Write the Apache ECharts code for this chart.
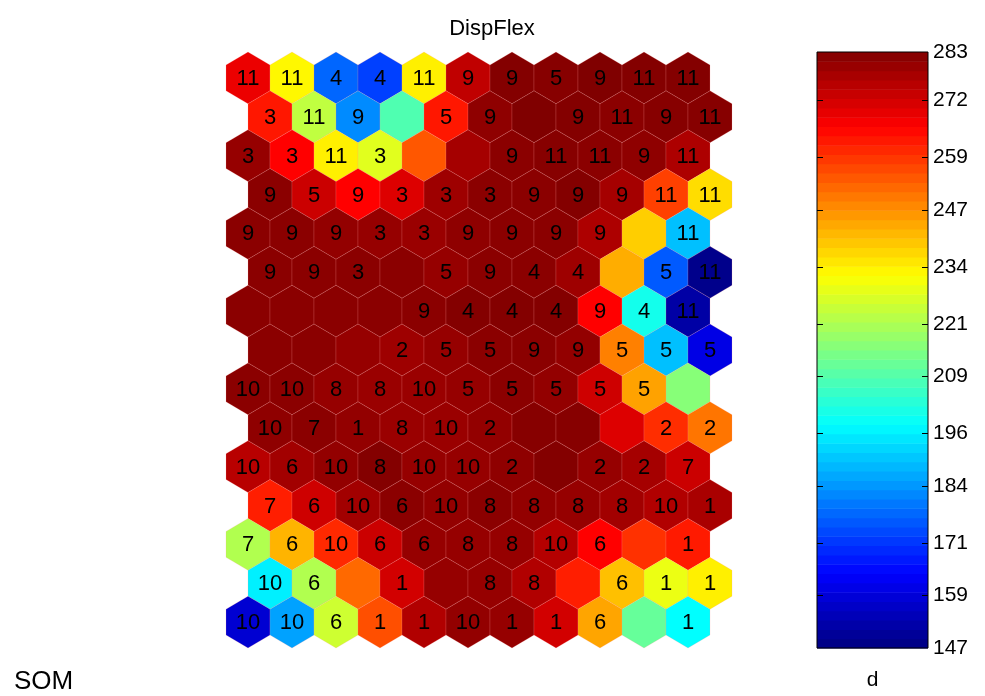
<!DOCTYPE html>
<html>
<head>
<meta charset="utf-8">
<script src="https://cdn.jsdelivr.net/npm/echarts@6/dist/echarts.min.js"></script>
<style>html,body{margin:0;padding:0;background:#fff;}#c{width:985px;height:696px;}</style>
</head>
<body>
<div id="c"></div>
<script>
// SOM component plane "DispFlex": 15 rows x 11 columns, hexagonal lattice
var rowValues = [
  [268.5, 233, 177.5, 172.5, 234, 274.5, 282.5, 282, 283, 282.5, 282.5],
  [263, 223.5, 182.5, 208.5, 263, 281, 283, 282.5, 281.5, 282, 282],
  [280, 266, 234, 228, 254.5, 278, 281.5, 282, 281.5, 281, 277],
  [281.5, 273, 266, 270.5, 279, 281.5, 281.5, 282.5, 278, 257.5, 236.5],
  [281.5, 281.5, 280.5, 280, 279.5, 281, 281.5, 281.5, 277, 238.5, 189.5],
  [281.5, 281.5, 281.5, 281.5, 280, 281.5, 281.5, 279, 243, 176, 148.5],
  [281.5, 281.5, 281.5, 281.5, 281.5, 282.5, 282.5, 282.5, 266, 200.5, 152],
  [281.5, 281.5, 280, 279, 280, 281.5, 281.5, 280.5, 249, 189.5, 160.5],
  [281.5, 281.5, 280, 279.5, 279.5, 280, 281.5, 280.5, 272.5, 244.5, 216],
  [281, 281.5, 280.5, 279.5, 279.5, 280.5, 282, 282, 270.5, 260, 250.5],
  [275.5, 278.5, 280.5, 282.5, 280, 280, 281, 282.5, 280, 278, 273],
  [262, 272.5, 278.5, 281.5, 280.5, 281.5, 280.5, 280, 278.5, 276.5, 277.5],
  [221.5, 242, 260.5, 273, 280, 280, 280, 276, 266, 259.5, 262.5],
  [196, 221.5, 252, 272, 280, 280, 276.5, 262, 240.5, 229.5, 234],
  [158, 185.5, 225.5, 255.5, 276.5, 280.5, 280, 272, 244, 211.5, 198]
];
var rowLabels = [
  ['11','11','4','4','11','9','9','5','9','11','11'],
  ['3','11','9','','5','9','','9','11','9','11'],
  ['3','3','11','3','','','9','11','11','9','11'],
  ['9','5','9','3','3','3','9','9','9','11','11'],
  ['9','9','9','3','3','9','9','9','9','','11'],
  ['9','9','3','','5','9','4','4','','5','11'],
  ['','','','','9','4','4','4','9','4','11'],
  ['','','','2','5','5','9','9','5','5','5'],
  ['10','10','8','8','10','5','5','5','5','5',''],
  ['10','7','1','8','10','2','','','','2','2'],
  ['10','6','10','8','10','10','2','','2','2','7'],
  ['7','6','10','6','10','8','8','8','8','10','1'],
  ['7','6','10','6','6','8','8','10','6','','1'],
  ['10','6','','1','','8','8','','6','1','1'],
  ['10','10','6','1','1','10','1','1','6','','1']
];
var colorbarTicks = [147, 159, 171, 184, 196, 209, 221, 234, 247, 259, 272, 283];
var valueMin = 147, valueMax = 283;
var titleText = 'DispFlex';
var colorbarName = 'd';
var cornerText = 'SOM';

var jet = ['#000080','#0000ff','#0080ff','#00ffff','#80ff80','#ffff00','#ff8000','#ff0000','#800000'];
var FONT = '"Liberation Sans", Arial, Helvetica, sans-serif';
var S3 = Math.sqrt(3);
var YTOP = 14 * S3 / 2;

var hexData = [];
for (var r = 0; r < rowValues.length; r++) {
  for (var c = 0; c < rowValues[r].length; c++) {
    hexData.push([c + (r % 2) * 0.5, r * S3 / 2, rowValues[r][c], rowLabels[r][c]]);
  }
}
var nBands = 64, bandData = [];
for (var i = 0; i < nBands; i++) {
  var lo = valueMin + (valueMax - valueMin) * i / nBands;
  var hi = valueMin + (valueMax - valueMin) * (i + 1) / nBands;
  bandData.push([lo, hi, (lo + hi) / 2]);
}
var tickData = colorbarTicks.slice(1, -1).map(function (v) { return [v]; });

var hexOff = [[0,-1/S3],[0.5,-0.5/S3],[0.5,0.5/S3],[0,1/S3],[-0.5,0.5/S3],[-0.5,-0.5/S3]];

var chart = echarts.init(document.getElementById('c'), null, {renderer: 'canvas'});
chart.setOption({
  animation: false,
  backgroundColor: '#fff',
  title: [
    {text: titleText, left: 487, top: 13, textAlign: 'center',
     textStyle: {fontFamily: FONT, fontSize: 22, fontWeight: 'normal', color: '#000'}},
    {text: cornerText, left: 9, top: 664,
     textStyle: {fontFamily: FONT, fontSize: 26, fontWeight: 'normal', color: '#000'}}
  ],
  grid: [
    {left: 226, top: 52, width: 506, height: 596, show: false},
    {left: 817, top: 52, width: 111, height: 599, show: true, borderColor: '#000', borderWidth: 1, backgroundColor: 'transparent', z: 5}
  ],
  xAxis: [
    {gridIndex: 0, type: 'value', min: -0.5, max: 11, show: false},
    {gridIndex: 1, type: 'value', min: 0, max: 1, show: true,
     axisLine: {show: false}, axisTick: {show: false}, axisLabel: {show: false}, splitLine: {show: false},
     name: colorbarName, nameLocation: 'middle', nameGap: 22,
     nameTextStyle: {fontFamily: FONT, fontSize: 21, color: '#000'}}
  ],
  yAxis: [
    {gridIndex: 0, type: 'value', min: -1/S3, max: YTOP + 1/S3, show: false},
    {gridIndex: 1, type: 'value', min: valueMin, max: valueMax, position: 'right',
     axisLine: {show: false}, splitLine: {show: false}, axisTick: {show: false},
     axisLabel: {show: true, customValues: colorbarTicks, margin: 5, fontFamily: FONT, fontSize: 21, color: '#000'}}
  ],
  visualMap: {
    type: 'continuous', show: false, min: valueMin, max: valueMax, dimension: 2,
    seriesIndex: [0, 1], inRange: {color: jet}
  },
  series: [
    {
      type: 'custom', xAxisIndex: 0, yAxisIndex: 0, data: hexData,
      renderItem: function (params, api) {
        var cx = api.value(0), cy = api.value(1);
        var pts = hexOff.map(function (o) { return api.coord([cx + o[0], YTOP - (cy + o[1])]); });
        var ctr = api.coord([cx, YTOP - cy]);
        var label = hexData[params.dataIndex][3];
        return {
          type: 'group',
          children: [
            {type: 'polygon', shape: {points: pts},
             style: {fill: api.visual('color'), stroke: 'rgba(255,150,150,0.28)', lineWidth: 0.7}},
            {type: 'text', z2: 5, style: {text: label, x: ctr[0], y: ctr[1] + 1, align: 'center', verticalAlign: 'middle',
              fontSize: 22, fontFamily: FONT, fill: '#000'}}
          ]
        };
      }
    },
    {
      type: 'custom', xAxisIndex: 1, yAxisIndex: 1, data: bandData, z: 1,
      renderItem: function (params, api) {
        var p0 = api.coord([0, api.value(0)]);
        var p1 = api.coord([1, api.value(1)]);
        return {type: 'rect', shape: {x: p0[0], y: p1[1], width: p1[0] - p0[0], height: p0[1] - p1[1] + 0.5},
                style: {fill: api.visual('color')}};
      }
    },
    {
      type: 'custom', xAxisIndex: 1, yAxisIndex: 1, data: tickData, z: 6, silent: true,
      renderItem: function (params, api) {
        var pl = api.coord([0, api.value(0)]);
        var pr = api.coord([1, api.value(0)]);
        var y = Math.round(pl[1]) + 0.5;
        return {type: 'group', children: [
          {type: 'line', shape: {x1: pl[0], y1: y, x2: pl[0] + 6, y2: y}, style: {stroke: '#000', lineWidth: 1}},
          {type: 'line', shape: {x1: pr[0] - 6, y1: y, x2: pr[0], y2: y}, style: {stroke: '#000', lineWidth: 1}}
        ]};
      }
    }
  ]
});
</script>
</body>
</html>
